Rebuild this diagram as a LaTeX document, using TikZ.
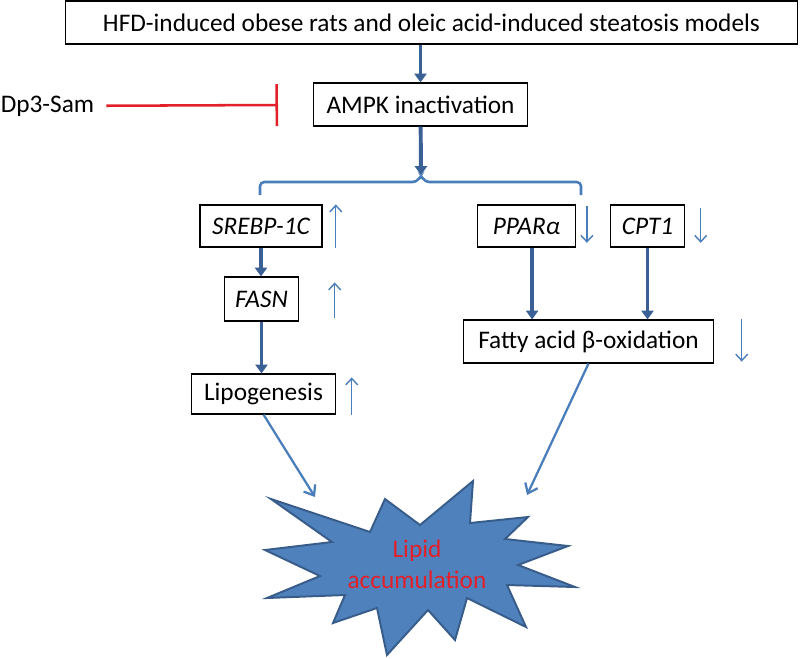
\documentclass[tikz,border=0pt]{standalone}
\usepackage{fontspec}
\setmainfont{Carlito}
\usetikzlibrary{arrows.meta}
\definecolor{darkarrow}{HTML}{3B6095}
\definecolor{lightarrow}{HTML}{4A7EBB}
\definecolor{starfill}{HTML}{4F81BD}
\definecolor{starline}{HTML}{385D8A}
\definecolor{inhibred}{HTML}{E3202A}
\tikzset{
	txt/.style={font=\fontsize{18}{22}\selectfont},
	box/.style={txt, draw, line width=0.8pt, minimum height=1.075cm, inner sep=2pt},
	thick arrow/.style={darkarrow, line width=2.8pt, -{Triangle[width=0.3cm, length=0.22cm]}},
	thin arrow/.style={lightarrow, line width=1.6pt, -{Straight Barb[length=0.22cm, width=0.34cm]}},
	updown/.style={lightarrow, line width=1pt, -{Straight Barb[length=0.16cm, width=0.3cm]}},
	inhibit/.style={inhibred, line width=1.8pt, -{Bar[width=1.05cm]}},
	brace/.style={lightarrow, line width=1.8pt, rounded corners=3pt},
}
\begin{document}
\begin{tikzpicture}[x=0.025cm, y=-0.025cm]
	\useasboundingbox (0,0) rectangle (800,658);
	% Boxes and labels:
	\node[box, minimum width=18.28cm] (models) at (431.5, 22.5) {HFD-induced obese rats and oleic acid-induced steatosis models};
	\node[box, minimum width=5.33cm] (ampk) at (420.5, 104.5) {AMPK inactivation};
	\node[txt] (dp3) at (47.5, 106) {Dp3-Sam};
	\node[box, minimum width=3.05cm, minimum height=1.05cm] (srebp) at (261, 226) {\itshape SREBP-1C};
	\node[box, minimum width=2.43cm, minimum height=1.05cm] (ppar) at (526.5, 226) {\itshape PPARα};
	\node[box, minimum width=1.83cm, minimum height=1.05cm] (cpt) at (647.5, 226) {\itshape CPT1};
	\node[box, minimum width=1.83cm, minimum height=1.1cm] (fasn) at (261.5, 299) {\itshape FASN};
	\node[box, minimum width=3.58cm, minimum height=1.0cm] (lipo) at (263.5, 394) {Lipogenesis};
	\node[box, minimum width=6.23cm] (fao) at (588.5, 341.5) {Fatty acid β-oxidation};
	% Star:
	\draw[starline, fill=starfill, line width=1.4pt, line join=miter]
		(265,550) -- (332,542) -- (271,499) -- (370,532) -- (385,499) -- (420,525)
		-- (473,481) -- (470,523) -- (528,517) -- (505,539) -- (568,546) -- (518,565)
		-- (575,587) -- (507,585) -- (526,627) -- (467,598) -- (455,640) -- (428,610)
		-- (387,655) -- (377,608) -- (333,623) -- (345,595) -- (267,598) -- (320,576) -- cycle;
	\node[txt, inhibred, align=center] (lipid) at (417, 564) {Lipid\\accumulation};
	\coordinate (split) at (421, 175);
	\coordinate (block) at (278, 105);
	\coordinate (hitL) at (315, 497);
	\coordinate (hitR) at (527, 495);
	% Connectors:
	\draw[inhibit, shorten <=0.18cm] (dp3) -- (block);
	\draw[thick arrow] (ampk.north |- models.south) -- (ampk);
	\draw[thick arrow] (ampk) -- (split);
	\draw[brace] (260,195) -- (260,182) -- (417,182) -- (split) -- (425,182) -- (581,182) -- (581,195);
	\draw[thick arrow] (srebp) -- (srebp |- fasn.north);
	\draw[thick arrow] (fasn) -- (fasn |- lipo.north);
	\draw[thick arrow] ([xshift=0.14cm]ppar.south) -- ([xshift=0.14cm]ppar.south |- fao.north);
	\draw[thick arrow] (cpt.south) -- (cpt.south |- fao.north);
	\draw[thin arrow] (lipo.south) -- (hitL);
	\draw[thin arrow] (fao.south) -- (hitR);
	% Up and down:
	\draw[updown] ([xshift=0.33cm]srebp.south east) -- ([xshift=0.33cm]srebp.north east);
	\draw[updown] ([xshift=0.9cm, yshift=0.1cm]fasn.south east) -- ([xshift=0.9cm, yshift=-0.15cm]fasn.north east);
	\draw[updown] ([xshift=0.4cm]lipo.south east) -- ([xshift=0.4cm, yshift=-0.1cm]lipo.north east);
	\draw[updown] ([xshift=0.28cm, yshift=-0.05cm]ppar.north east) -- ([xshift=0.28cm, yshift=0.12cm]ppar.south east);
	\draw[updown] ([xshift=0.4cm, yshift=-0.1cm]cpt.north east) -- ([xshift=0.4cm, yshift=0.12cm]cpt.south east);
	\draw[updown] ([xshift=0.7cm]fao.north east) -- ([xshift=0.7cm, yshift=0.05cm]fao.south east);
\end{tikzpicture}
\end{document}
